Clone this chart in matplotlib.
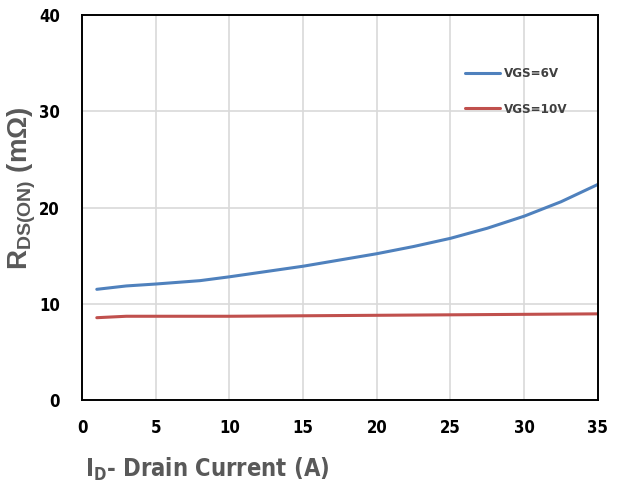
import matplotlib
import matplotlib.pyplot as plt

matplotlib.use('Agg')

# drain current (A) and on-resistance (mOhm) for the two gate voltages
id_6v = [1, 3, 5, 8, 10, 12.5, 15, 17.5, 20, 22.5, 25, 27.5, 30, 32.5, 35]
rds_6v = [11.5, 11.85, 12.05, 12.4, 12.8, 13.35, 13.9, 14.55, 15.2, 15.95, 16.8, 17.85, 19.1, 20.6, 22.4]
id_10v = [1, 3, 10, 20, 30, 35]
rds_10v = [8.55, 8.7, 8.7, 8.8, 8.9, 8.95]

x_ticks = [0, 5, 10, 15, 20, 25, 30, 35]
y_ticks = [0, 10, 20, 30, 40]

narrow = ['Liberation Sans Narrow', 'DejaVu Sans']
wide = ['Liberation Sans', 'DejaVu Sans']
label_grey = '#595959'

fig = plt.figure(figsize=(6.17, 4.86), dpi=100)
ax = fig.add_axes([0.133, 0.177, 0.836, 0.792])

ax.plot(id_6v, rds_6v, color='#4f81bd', lw=2.2, label='VGS=6V', solid_capstyle='round')
ax.plot(id_10v, rds_10v, color='#c0504d', lw=2.2, label='VGS=10V', solid_capstyle='round')

ax.set_xlim(0, 35)
ax.set_ylim(0, 40)
ax.set_xticks(x_ticks)
ax.set_yticks(y_ticks)
ax.grid(True, color='#d9d9d9', lw=1.2)
ax.set_axisbelow(True)
ax.tick_params(axis='x', length=0, pad=14)
ax.tick_params(axis='y', length=0, pad=16)
for lbl in ax.get_xticklabels() + ax.get_yticklabels():
    lbl.set_family(narrow)
    lbl.set_stretch('condensed')
    lbl.set_fontweight('bold')
    lbl.set_fontsize(12)
for sp in ax.spines.values():
    sp.set_color('black')
    sp.set_linewidth(1.4)

ax.set_xlabel(r'$\mathregular{I_D}$- Drain Current (A)', family=narrow, fontstretch='condensed',
              fontweight='bold', fontsize=17, color=label_grey, loc='left')
ax.set_ylabel(r'$\mathregular{R_{DS(ON)}}$ (m$\mathregular{\Omega}$)', family=wide, fontweight='bold',
              fontsize=20, color=label_grey)
ax.xaxis.set_label_coords(0.005, -0.145)
ax.yaxis.set_label_coords(-0.085, 0.55)

leg = ax.legend(loc='upper left', bbox_to_anchor=(0.72, 0.895), frameon=False,
                handlelength=2.6, handletextpad=0.3, labelspacing=1.7,
                prop={'family': narrow, 'stretch': 'condensed', 'weight': 'bold', 'size': 9.5})
for t in leg.get_texts():
    t.set_color('#404040')

fig.savefig('out.png', dpi=100)
